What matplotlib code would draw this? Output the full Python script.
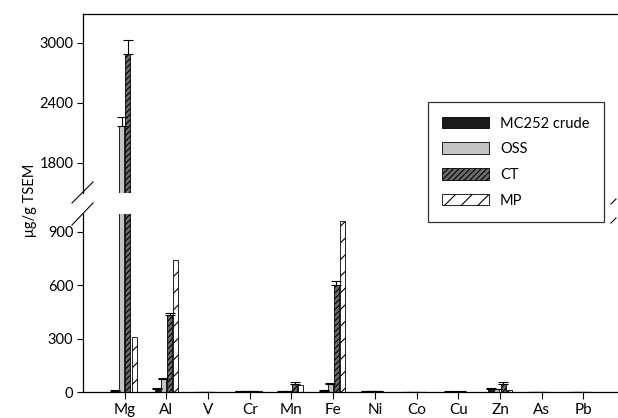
import matplotlib
matplotlib.use('Agg')
import matplotlib.pyplot as plt
from matplotlib.lines import Line2D
import numpy as np

plt.rcParams['font.family'] = ['Lato', 'DejaVu Sans']
plt.rcParams['hatch.linewidth'] = 0.8

elements = ['Mg', 'Al', 'V', 'Cr', 'Mn', 'Fe', 'Ni', 'Co', 'Cu', 'Zn', 'As', 'Pb']
series = ['MC252 crude', 'OSS', 'CT', 'MP']

crude = [8, 17, 0.5, 5, 2, 7, 3, 0, 2, 16, 1, 0]
oss = [2175, 75, 0.5, 7, 3, 45, 3, 0, 2, 16, 1, 0]
ct = [2895, 435, 0.5, 6, 45, 602, 3, 0, 2, 47, 1, 0]
mp = [309, 741, 0.5, 4, 40, 960, 2, 0, 1, 11, 1, 0]

crude_err = [6, 7, 0, 2, 1, 2, 1, 0, 1, 5, 0, 0]
oss_err = [85, 5, 0, 1, 1, 5, 1, 0, 1, 2, 0, 0]
ct_err = [135, 10, 0, 1, 9, 24, 1, 0, 1, 7, 0, 0]

values = [crude, oss, ct, mp]
errors = [crude_err, oss_err, ct_err, None]
faces = ['#1a1a1a', '#c4c4c4', '#6a6a6a', 'white']
hatches = [None, None, '//////', '//']

W, H = 618, 418
fig = plt.figure(figsize=(W / 100, H / 100), dpi=100)

left = 83 / W
ax_top = fig.add_axes([left, 1 - 193 / H, 1 - left, (193 - 14) / H])
ax_bot = fig.add_axes([left, 1 - 392 / H, 1 - left, (392 - 214) / H])

x = np.arange(1, len(elements) + 1)
step = 0.15
width = 0.12

for ax in (ax_top, ax_bot):
    for i in range(4):
        pos = x + (i - 1.5) * step
        ax.bar(pos, values[i], width=width, color=faces[i], edgecolor='black',
               linewidth=0.6, hatch=hatches[i], label=series[i], zorder=2)
        if errors[i] is not None:
            ax.errorbar(pos, values[i], yerr=[np.zeros(len(x)), errors[i]],
                        fmt='none', ecolor='black', elinewidth=0.8,
                        capsize=3.5, capthick=0.8, zorder=3)
    ax.set_xlim(0, 12.83)
    ax.spines['right'].set_visible(False)
    ax.tick_params(axis='y', direction='out', length=4, width=0.8, labelsize=10.5, pad=3)
    for s in ax.spines.values():
        s.set_linewidth(0.9)

ax_top.set_ylim(1500, 3290)
ax_top.set_yticks([1800, 2400, 3000])
ax_top.spines['bottom'].set_visible(False)
ax_top.set_xticks([])

ax_bot.set_ylim(0, 1000)
ax_bot.set_yticks([0, 300, 600, 900])
ax_bot.spines['top'].set_visible(False)
ax_bot.set_xticks(x)
ax_bot.set_xticklabels(elements)
ax_bot.tick_params(axis='x', direction='out', length=5, width=0.8, labelsize=11, pad=3)

# break marks
for (x0, y0, x1, y1) in [(72, 203, 93, 182), (72, 225, 93, 203),
                         (611, 204, 616, 199), (611, 223, 616, 218)]:
    fig.add_artist(Line2D([x0 / W, x1 / W], [1 - y0 / H, 1 - y1 / H],
                          color='black', lw=0.8, transform=fig.transFigure))

fig.text(30 / W, 1 - 200 / H, 'μg/g TSEM', rotation=90, ha='center', va='center',
         fontsize=10.5)

handles, labels = ax_bot.get_legend_handles_labels()
leg = fig.legend(handles[:4], labels[:4], loc='upper right',
                 bbox_to_anchor=(604 / W, 1 - 102 / H), fontsize=10.5,
                 frameon=True, fancybox=False, edgecolor='black',
                 handlelength=3.2, handleheight=0.85, labelspacing=0.8,
                 handletextpad=0.75, borderpad=1.0, borderaxespad=0)
leg.get_frame().set_linewidth(0.9)

fig.savefig('out.png', dpi=100)
